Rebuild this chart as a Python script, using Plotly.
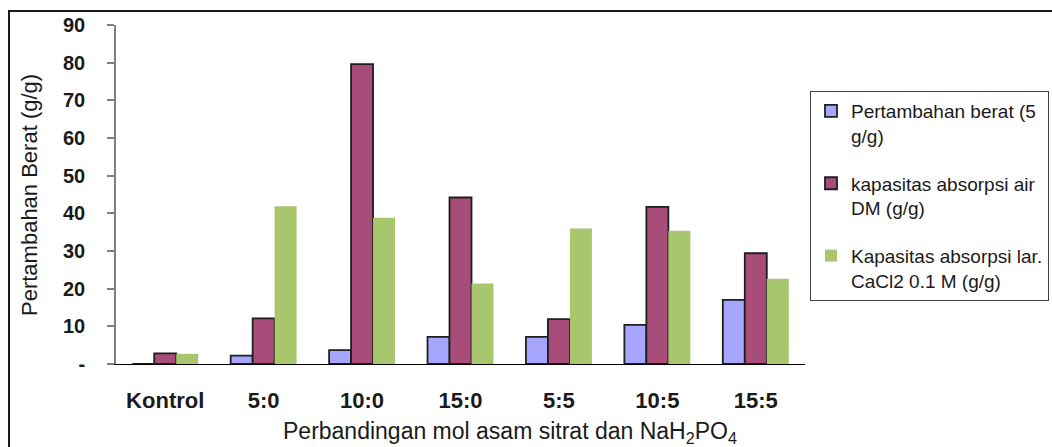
import plotly.graph_objects as go

categories = ["Kontrol", "5:0", "10:0", "15:0", "5:5", "10:5", "15:5"]
pertambahan_berat = [0.0, 2.2, 3.7, 7.2, 7.2, 10.4, 17.0]
kapasitas_air_dm = [2.8, 12.1, 79.6, 44.2, 11.9, 41.7, 29.4]
kapasitas_cacl2 = [2.7, 41.9, 38.8, 21.4, 36.0, 35.4, 22.6]

series_names = [
    "Pertambahan berat (5<br>g/g)",
    "kapasitas absorpsi air<br>DM (g/g)",
    "Kapasitas absorpsi lar.<br>CaCl2 0.1 M (g/g)",
]
y_tickvals = [0, 10, 20, 30, 40, 50, 60, 70, 80, 90]
y_ticktext = ["-", "10", "20", "30", "40", "50", "60", "70", "80", "90"]

FONT = "Liberation Sans, Arial, sans-serif"

# plot area in pixels
L, R, T, B = 116, 805, 25, 364
W, H = 1052, 447


def px_x(p):
    return (p - L) / (R - L)


def px_y(p):
    return (B - p) / (B - T)


fig = go.Figure()
fig.add_trace(go.Bar(
    x=categories, y=pertambahan_berat, name=series_names[0], legendgroup="a",
    marker=dict(color="#A6A6FF", line=dict(color="#1e1e1e", width=1.8)),
))
fig.add_trace(go.Bar(
    x=categories, y=kapasitas_air_dm, name=series_names[1], legendgroup="b",
    marker=dict(color="#A84D7A", line=dict(color="#1e1e1e", width=1.8)),
))
fig.add_trace(go.Bar(
    x=categories, y=kapasitas_cacl2, name=series_names[2], legendgroup="c",
    marker=dict(color="#A8C66C", line=dict(color="#A8C66C", width=0)),
))

fig.update_layout(
    width=W, height=H,
    margin=dict(l=L, r=W - R, t=T, b=H - B, autoexpand=False),
    paper_bgcolor="white", plot_bgcolor="white",
    barmode="group", bargap=0.33, bargroupgap=0,
    font=dict(family=FONT, color="#1a1a1a"),
    showlegend=True,
    legend=dict(
        x=px_x(810), y=px_y(91), xanchor="left", yanchor="top",
        bordercolor="#404040", borderwidth=1, bgcolor="white",
        font=dict(size=19, family=FONT, color="#1a1a1a"),
        valign="top", traceorder="grouped", tracegroupgap=20,
    ),
    xaxis=dict(
        type="category", showline=True, linecolor="#000000", linewidth=1,
        ticks="", showgrid=False, zeroline=False,
        tickfont=dict(size=22, family=FONT, color="#1a1a1a", weight="bold"),
        ticklabelstandoff=17,
    ),
    yaxis=dict(
        range=[0, 90], tickvals=y_tickvals, ticktext=y_ticktext,
        showline=True, linecolor="#808080", linewidth=1.5,
        ticks="outside", ticklen=7, tickcolor="#808080", tickwidth=1.5,
        showgrid=False, zeroline=False,
        tickfont=dict(size=20, family=FONT, color="#1a1a1a", weight="bold"),
        ticklabelstandoff=18,
    ),
    annotations=[
        dict(text="Pertambahan Berat (g/g)", textangle=-90,
             xref="paper", yref="paper", x=px_x(29), y=px_y(195),
             xanchor="center", yanchor="middle", showarrow=False,
             font=dict(size=22, family=FONT, color="#1a1a1a")),
        dict(text="Perbandingan mol asam sitrat dan NaH<sub>2</sub>PO<sub>4</sub>",
             xref="paper", yref="paper", x=px_x(510), y=px_y(432),
             xanchor="center", yanchor="middle", showarrow=False,
             font=dict(size=23, family=FONT, color="#1a1a1a")),
    ],
    shapes=[
        dict(type="rect", xref="paper", yref="paper",
             x0=px_x(9), x1=px_x(1070), y0=px_y(470), y1=px_y(11),
             line=dict(color="#1a1a1a", width=2), layer="below"),
    ],
)

fig.write_html("out.html")
